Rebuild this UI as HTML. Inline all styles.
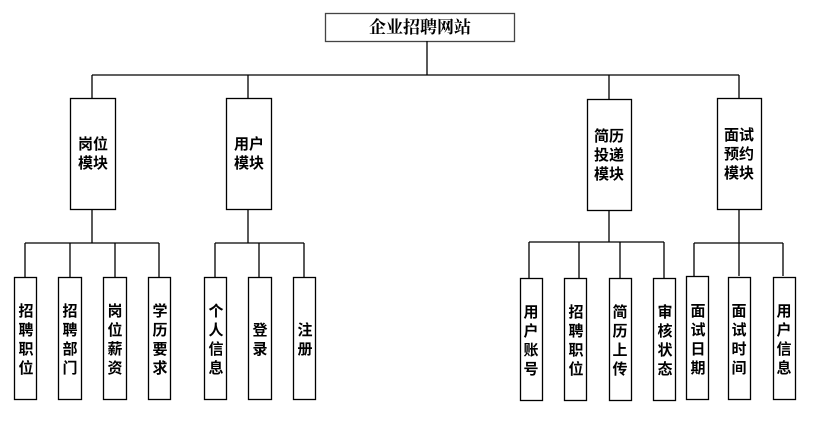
<!DOCTYPE html>
<html><head><meta charset="utf-8"><style>
html,body{margin:0;padding:0;background:#fff}
svg{display:block}
text{font-family:"Liberation Sans","Noto Sans CJK SC",sans-serif;font-weight:bold;font-size:15px;fill:#000}
</style></head><body>
<svg width="839" height="422" viewBox="0 0 839 422" xmlns="http://www.w3.org/2000/svg">
<g stroke="#000" stroke-width="1.3" fill="none">
<rect x="325.5" y="13.5" width="189" height="28" stroke="#444"/>
<path d="M427 41V75M92 75H739M92 75V98M248 75V98M609 75V99M739 75V98"/>
<rect x="70.5" y="98.5" width="45" height="111"/>
<rect x="226.5" y="98.5" width="45" height="111"/>
<rect x="587.5" y="99.5" width="44" height="111"/>
<rect x="717.5" y="98.5" width="44" height="111"/>
<path d="M92 209V243M25 243H159M25 243V277M70 243V277M115 243V277M159 243V277"/>
<path d="M248 209V243M215 243H304M215 243V277M259 243V277M304 243V277"/>
<path d="M609 210V242M529 242H664M529 242V278M579 242V278M620 242V278M664 242V278"/>
<path d="M739 209V243M694 243H783M694 243V276M739 243V276M783 243V276"/>
<rect x="14.5" y="277.5" width="22" height="122"/>
<rect x="58.5" y="277.5" width="23" height="122"/>
<rect x="103.5" y="277.5" width="23" height="122"/>
<rect x="148.5" y="277.5" width="22" height="122"/>
<rect x="204.5" y="277.5" width="22" height="122"/>
<rect x="248.5" y="277.5" width="23" height="122"/>
<rect x="293.5" y="277.5" width="22" height="122"/>
<rect x="520.5" y="278.5" width="22" height="122"/>
<rect x="564.5" y="278.5" width="22" height="122"/>
<rect x="609.5" y="278.5" width="22" height="122"/>
<rect x="653.5" y="278.5" width="22" height="122"/>
<rect x="686.5" y="276.5" width="22" height="123"/>
<rect x="728.5" y="277.5" width="22" height="122"/>
<rect x="773.5" y="277.5" width="22" height="122"/>
</g>
<text x="420" y="33" text-anchor="middle" style="font-family:'Liberation Serif','Noto Serif CJK SC',serif;font-size:17px">企业招聘网站</text>
<g text-anchor="middle">
<text x="93" y="149">岗位</text><text x="93" y="168">模块</text>
<text x="249" y="149">用户</text><text x="249" y="168">模块</text>
<text x="609" y="141">简历</text><text x="609" y="160">投递</text><text x="609" y="179">模块</text>
<text x="739" y="140">面试</text><text x="739" y="159">预约</text><text x="739" y="178">模块</text>
</g>
<g text-anchor="middle" id="leaves">
<text x="26" y="316">招</text><text x="26" y="335">聘</text><text x="26" y="354">职</text><text x="26" y="373">位</text>
<text x="70" y="316">招</text><text x="70" y="335">聘</text><text x="70" y="354">部</text><text x="70" y="373">门</text>
<text x="115" y="316">岗</text><text x="115" y="335">位</text><text x="115" y="354">薪</text><text x="115" y="373">资</text>
<text x="160" y="316">学</text><text x="160" y="335">历</text><text x="160" y="354">要</text><text x="160" y="373">求</text>
<text x="216" y="316">个</text><text x="216" y="335">人</text><text x="216" y="354">信</text><text x="216" y="373">息</text>
<text x="260" y="335">登</text><text x="260" y="354">录</text>
<text x="305" y="335">注</text><text x="305" y="354">册</text>
<text x="531" y="317">用</text><text x="531" y="336">户</text><text x="531" y="355">账</text><text x="531" y="374">号</text>
<text x="576" y="317">招</text><text x="576" y="336">聘</text><text x="576" y="355">职</text><text x="576" y="374">位</text>
<text x="620" y="317">简</text><text x="620" y="336">历</text><text x="620" y="355">上</text><text x="620" y="374">传</text>
<text x="665" y="317">审</text><text x="665" y="336">核</text><text x="665" y="355">状</text><text x="665" y="374">态</text>
<text x="698" y="316">面</text><text x="698" y="335">试</text><text x="698" y="354">日</text><text x="698" y="373">期</text>
<text x="739" y="316">面</text><text x="739" y="335">试</text><text x="739" y="354">时</text><text x="739" y="373">间</text>
<text x="784" y="316">用</text><text x="784" y="335">户</text><text x="784" y="354">信</text><text x="784" y="373">息</text>
</g>
</svg>
</body></html>
